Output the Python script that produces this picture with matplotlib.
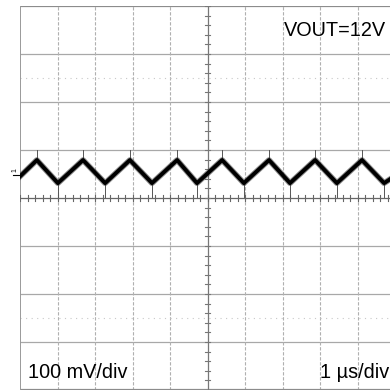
import matplotlib
matplotlib.use("Agg")
import matplotlib.pyplot as plt

# Trace vertices (time in divisions, level in divisions)
vertex_t = [0.0, 0.45, 1.01, 1.68, 2.27, 2.93, 3.52, 4.19, 4.72, 5.39, 5.97, 6.64, 7.20, 7.87, 8.45, 9.12, 9.71, 10.0]
vertex_v = [0.45, 0.79, 0.31, 0.79, 0.31, 0.79, 0.31, 0.79, 0.31, 0.79, 0.31, 0.79, 0.31, 0.79, 0.31, 0.79, 0.31, 0.46]
# switching spikes
peak_t = [0.45, 1.68, 2.93, 4.19, 5.39, 6.64, 7.87, 9.12]
peak_spike_top = [1.0, 1.0, 1.0, 1.0, 1.0, 1.0, 1.0, 1.0]
trough_t = [1.01, 2.27, 3.52, 4.72, 5.97, 7.20, 8.45, 9.71]
trough_spike_bottom = [0.03, 0.03, 0.03, 0.03, 0.03, 0.03, 0.03, 0.03]

label_top = "VOUT=12V"
label_left = "100 mV/div"
label_right = "1 µs/div"

W, H = 390, 392
fig = plt.figure(figsize=(W / 100, H / 100), dpi=100)
ax_left = 20 / W
ax_bottom = (H - 390) / H
ax = fig.add_axes([ax_left, ax_bottom, 375 / W, 384 / H])
ax.set_xlim(0, 10)
ax.set_ylim(-4, 4)
ax.set_xticks([])
ax.set_yticks([])
for s in ax.spines.values():
    s.set_visible(False)

# grid
for yv in range(-3, 4):
    if yv == 0:
        continue
    ax.axhline(yv, color="#a8a8a8", lw=0.9, zorder=1)
for xv in range(1, 10):
    if xv == 5:
        continue
    ax.axvline(xv, color="#b0b0b0", lw=0.8, ls=(0, (3, 1.5)), zorder=1)
for yv in (2.5, -2.5):
    ax.axhline(yv, color="#c8c8c8", lw=0.8, ls=(0, (1, 4)), zorder=1)

# borders
ax.axhline(4, color="#8c8c8c", lw=1.6, zorder=2)
ax.axhline(-4, color="#8c8c8c", lw=1.6, zorder=2)
ax.axvline(0, color="#9a9a9a", lw=1.4, zorder=2)

# center axes with minor ticks
ax.axhline(0, color="#666666", lw=0.9, zorder=2)
ax.axvline(5, color="#777777", lw=0.9, zorder=2)
for k in range(0, 51):
    xt = k * 0.2
    ax.plot([xt, xt], [-0.06, 0.06], color="#666666", lw=0.8, zorder=2)
for k in range(-20, 21):
    yt = k * 0.2
    ax.plot([4.94, 5.06], [yt, yt], color="#777777", lw=0.8, zorder=2)

# spikes
for t, top in zip(peak_t, peak_spike_top):
    ax.plot([t, t], [0.79, top], color="#555555", lw=0.7, zorder=3)
for t, bot in zip(trough_t, trough_spike_bottom):
    ax.plot([t, t], [0.31, bot], color="#555555", lw=0.7, zorder=3)

# trace
ax.plot(vertex_t, vertex_v, color="#333333", lw=4.2, alpha=0.55, zorder=4, solid_joinstyle="round")
ax.plot(vertex_t, vertex_v, color="black", lw=2.8, zorder=5, solid_joinstyle="round")

# channel marker
fig.text(15 / W, 1 - 170 / H, "1", fontsize=5, rotation=90, ha="center", va="center",
         family=["Liberation Sans", "DejaVu Sans"])
fig.lines.append(plt.Line2D([13 / W, 19 / W], [1 - 175 / H, 1 - 175 / H],
                            transform=fig.transFigure, color="black", lw=0.8))

fs = 14.3
fam = ["Liberation Sans", "DejaVu Sans"]
fig.text(284 / W, 1 - 31 / H, label_top, fontsize=fs, ha="left", va="center", family=fam)
fig.text(28 / W, 1 - 373 / H, label_left, fontsize=fs, ha="left", va="center", family=fam)
fig.text(320 / W, 1 - 372 / H, label_right, fontsize=fs, ha="left", va="center", family=fam)

fig.savefig("out.png", dpi=100)
